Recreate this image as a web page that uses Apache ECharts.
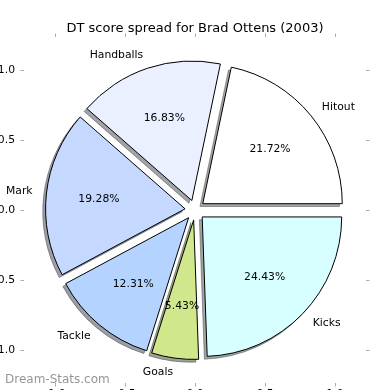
<!DOCTYPE html>
<html>
<head>
<meta charset="utf-8">
<script src="https://cdn.jsdelivr.net/npm/echarts@6/dist/echarts.min.js"></script>
<style>
html,body{margin:0;padding:0;background:#fff;}
#chart{width:390px;height:390px;}
</style>
</head>
<body>
<div id="chart"></div>
<script>
// ---- data ----
const titleText = 'DT score spread for Brad Ottens (2003)';
const watermark = 'Dream-Stats.com';
const categories = ['Hitout', 'Handballs', 'Mark', 'Tackle', 'Goals', 'Kicks'];
const percents = [21.72, 16.83, 19.28, 12.31, 5.43, 24.43];
const sliceColors = ['#ffffff', '#eaf0ff', '#c5d8ff', '#b4d4ff', '#d0e88b', '#d8ffff'];
const tickValues = [-1, -0.5, 0, 0.5, 1];

// ---- layout ----
const FONT = 'DejaVu Sans';
const R = 139.5;          // pie radius (px) = 1 data unit
const EXPLODE = 10;       // exploded offset (px)
const CX = 195, CY = 210;
const SHX = -2.8, SHY = 2.8; // shadow offset (px)
const gridL = 24, gridR = 24, gridT = 37, gridB = 7;
const xHalf = (390 - gridL - gridR) / 2 / 140;
const yHalf = (390 - gridT - gridB) / 2 / 140;

function shadowOf(hex) {
  const n = parseInt(hex.slice(1), 16);
  const r = Math.round(((n >> 16) & 255) * 0.3), g = Math.round(((n >> 8) & 255) * 0.3), b = Math.round((n & 255) * 0.3);
  return 'rgba(' + r + ',' + g + ',' + b + ',0.5)';
}

const mainData = categories.map((name, i) => ({
  name: name, value: percents[i], selected: true,
  itemStyle: { color: sliceColors[i] }
}));
const shadowData = categories.map((name, i) => ({
  name: name, value: percents[i], selected: true,
  itemStyle: { color: shadowOf(sliceColors[i]), borderColor: shadowOf(sliceColors[i]) }
}));
const pctData = categories.map((name, i) => ({ name: name, value: percents[i], selected: true }));

const tickFmt = v => Number(v).toFixed(1);
const axisCommon = {
  type: 'value',
  axisLine: { show: false, onZero: false },
  splitLine: { show: false },
  axisTick: { show: true, inside: false, customValues: tickValues, length: 3.5, lineStyle: { color: '#aaaaaa', width: 1 } },
};

const pieCommon = {
  type: 'pie',
  startAngle: 0,
  clockwise: false,
  padAngle: 0,
  selectedMode: 'multiple',
  selectedOffset: EXPLODE,
  avoidLabelOverlap: false,
  emphasis: { disabled: true }
};

const chart = echarts.init(document.getElementById('chart'), null, { renderer: 'canvas' });
chart.setOption({
  animation: false,
  backgroundColor: '#ffffff',
  title: [
    { text: titleText, left: 'center', top: 17,
      textStyle: { fontFamily: FONT, fontSize: 13, fontWeight: 'normal', color: '#000' } },
    { text: watermark, left: 0, top: 369,
      textStyle: { fontFamily: FONT, fontSize: 12, fontWeight: 'normal', color: '#969696' } }
  ],
  grid: { left: gridL, right: gridR, top: gridT, bottom: gridB, containLabel: false, outerBoundsMode: 'none' },
  xAxis: [
    Object.assign({}, axisCommon, { position: 'bottom', min: -xHalf, max: xHalf,
      axisLabel: { show: true, customValues: tickValues, formatter: tickFmt, margin: 6,
        fontFamily: FONT, fontSize: 10.8, color: '#000' } }),
    Object.assign({}, axisCommon, { position: 'top', min: -xHalf, max: xHalf, axisLabel: { show: false } })
  ],
  yAxis: [
    Object.assign({}, axisCommon, { position: 'left', min: -yHalf, max: yHalf,
      axisLabel: { show: true, customValues: tickValues, formatter: tickFmt, margin: 9,
        fontFamily: FONT, fontSize: 10.8, color: '#000' } }),
    Object.assign({}, axisCommon, { position: 'right', min: -yHalf, max: yHalf, axisLabel: { show: false } })
  ],
  series: [
    Object.assign({}, pieCommon, {
      name: 'shadow',
      center: [CX + SHX, CY + SHY],
      radius: [0, R],
      silent: true,
      z: 1,
      itemStyle: { borderWidth: 1 },
      label: { show: false },
      labelLine: { show: false },
      data: shadowData
    }),
    Object.assign({}, pieCommon, {
      name: 'main',
      center: [CX, CY],
      radius: [0, R],
      z: 2,
      itemStyle: { borderColor: '#000', borderWidth: 1 },
      select: { itemStyle: { borderColor: '#000', borderWidth: 1 } },
      label: { show: true, position: 'outside', formatter: '{b}', distanceToLabelLine: 0,
        fontFamily: FONT, fontSize: 10.8, color: '#000' },
      labelLine: { show: false, length: R * 0.1, length2: 0 },
      data: mainData
    }),
    Object.assign({}, pieCommon, {
      name: 'pct',
      center: [CX, CY],
      radius: [R * 0.2, R],
      silent: true,
      z: 3,
      itemStyle: { color: 'rgba(0,0,0,0)', borderWidth: 0 },
      select: { itemStyle: { color: 'rgba(0,0,0,0)', borderWidth: 0 } },
      label: { show: true, position: 'inside', formatter: p => p.value.toFixed(2) + '%',
        fontFamily: FONT, fontSize: 10.8, color: '#000' },
      labelLine: { show: false },
      data: pctData
    })
  ]
});
</script>
</body>
</html>
